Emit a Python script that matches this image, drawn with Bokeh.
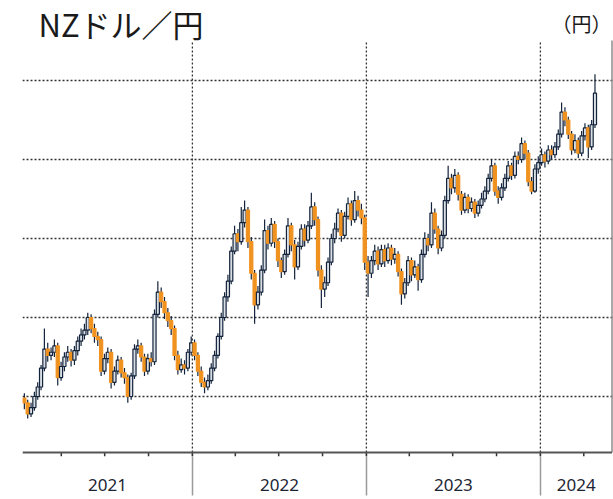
import pandas as pd
from bokeh.plotting import figure
from bokeh.models import ColumnDataSource, FixedTicker, Range1d, Grid
from bokeh.embed import file_html
from bokeh.resources import INLINE
from bokeh.core.properties import value

# ---- data (weekly NZD/JPY candles) ----
first_week = "2021-01-11"
first_open = 74.9
closes = [
    74.6, 73.9, 74.3, 75.0, 75.6, 76.8, 78.0, 77.6, 77.8, 78.2,
    76.2, 76.9, 77.5, 77.8, 77.3, 77.9, 78.5, 78.9, 79.2, 80.0,
    79.3, 78.8, 78.6, 76.6, 77.4, 77.8, 75.9, 76.6, 77.3, 76.5,
    76.2, 75.0, 76.3, 78.0, 78.2, 77.5, 76.6, 77.4, 77.2, 80.2,
    81.6, 81.0, 80.3, 79.8, 79.3, 77.6, 76.7, 77.0, 76.8, 77.8,
    78.4, 77.6, 76.6, 75.9, 75.6, 76.0, 76.8, 77.6, 78.8, 80.0,
    81.3, 82.3, 84.2, 85.3, 84.8, 86.0, 86.8, 84.8, 82.8, 80.8,
    81.6, 83.0, 85.5, 84.7, 85.9, 84.8, 83.6, 82.9, 84.0, 85.8,
    84.6, 83.2, 84.5, 85.6, 84.9, 85.8, 87.0, 86.2, 83.0, 81.8,
    82.2, 83.5, 85.0, 85.6, 86.6, 85.2, 86.4, 87.2, 86.2, 87.4,
    86.8, 86.3, 83.5, 82.8, 83.6, 84.2, 83.4, 84.3, 83.6, 84.4,
    83.7, 84.0, 82.9, 81.5, 82.2, 83.6, 82.7, 83.2, 82.4, 84.0,
    85.0, 84.6, 86.6, 85.6, 84.4, 85.2, 87.4, 88.8, 88.2, 89.0,
    87.8, 86.8, 87.6, 86.9, 87.3, 86.6, 87.1, 87.5, 88.0, 88.8,
    89.6, 88.0, 87.6, 88.2, 88.8, 89.6, 89.0, 90.2, 90.0, 91.0,
    90.4, 88.6, 88.0, 89.4, 89.8, 90.3, 89.9, 90.6, 90.3, 90.8,
    91.6, 93.0, 92.5, 91.6, 90.6, 91.2, 90.4, 91.5, 92.0, 90.8,
    92.2, 94.2,
]
highs = [
    75.2, 74.8, 74.6, 75.3, 75.9, 77.0, 79.3, 78.4, 78.1, 78.6,
    78.4, 77.2, 77.8, 78.2, 78.0, 78.2, 78.8, 79.3, 79.6, 80.3,
    80.2, 79.6, 79.1, 78.8, 77.7, 78.1, 78.0, 76.9, 77.6, 77.5,
    76.8, 76.4, 76.5, 78.3, 78.6, 78.4, 77.7, 77.7, 77.8, 80.5,
    82.3, 81.9, 81.3, 80.6, 80.1, 79.5, 77.9, 77.4, 77.3, 78.0,
    78.8, 78.6, 77.8, 76.9, 76.2, 76.4, 77.1, 77.9, 79.0, 80.3,
    81.6, 82.7, 84.5, 85.8, 85.6, 87.0, 87.4, 87.0, 85.1, 83.0,
    82.0, 83.3, 86.2, 85.8, 86.3, 86.1, 85.0, 83.8, 84.3, 86.3,
    86.0, 84.9, 84.8, 85.9, 85.9, 86.1, 87.9, 87.3, 86.4, 83.3,
    82.6, 83.8, 85.3, 86.0, 86.9, 86.8, 86.7, 87.6, 87.4, 88.0,
    87.7, 87.2, 86.5, 83.9, 83.9, 84.6, 84.5, 84.6, 84.6, 84.7,
    84.6, 84.4, 84.2, 83.1, 82.5, 83.9, 83.8, 83.6, 83.4, 84.3,
    85.4, 85.3, 87.3, 86.9, 85.8, 85.5, 87.7, 89.6, 89.1, 89.4,
    89.2, 88.0, 87.9, 87.8, 87.6, 87.5, 87.4, 87.9, 88.3, 89.1,
    90.0, 89.8, 88.3, 88.5, 89.1, 89.9, 89.8, 90.5, 90.5, 91.4,
    91.2, 90.6, 88.9, 89.7, 90.2, 90.7, 90.5, 90.9, 90.9, 91.1,
    91.9, 93.6, 93.3, 92.7, 91.8, 91.6, 91.4, 91.8, 92.3, 92.2,
    92.5, 95.4,
]
lows = [
    74.2, 73.6, 73.7, 74.1, 74.8, 75.4, 76.6, 77.2, 77.3, 77.5,
    75.7, 76.0, 76.6, 77.2, 76.9, 77.0, 77.6, 78.2, 78.6, 78.9,
    79.0, 78.4, 78.2, 76.3, 76.4, 77.1, 75.5, 75.7, 76.4, 76.2,
    75.8, 74.6, 74.8, 76.1, 77.7, 77.2, 76.3, 76.4, 76.9, 77.0,
    80.0, 80.6, 79.9, 79.4, 78.9, 77.3, 76.4, 76.5, 76.4, 76.6,
    77.6, 77.3, 76.3, 75.6, 75.2, 75.4, 75.8, 76.6, 77.4, 78.6,
    79.8, 81.0, 82.1, 84.0, 84.2, 84.6, 85.7, 84.4, 82.4, 79.6,
    80.5, 81.4, 82.8, 84.3, 84.5, 84.4, 83.2, 82.5, 82.7, 83.8,
    84.2, 82.4, 83.0, 84.3, 84.5, 84.7, 85.6, 85.8, 82.6, 80.6,
    81.3, 82.0, 83.3, 84.7, 85.4, 84.8, 85.0, 86.2, 85.8, 86.0,
    86.4, 85.9, 83.0, 81.3, 82.5, 83.3, 83.0, 83.2, 83.2, 83.4,
    83.3, 83.4, 82.6, 80.8, 81.2, 82.0, 82.3, 82.5, 81.7, 82.2,
    83.8, 84.2, 84.4, 85.3, 84.0, 84.2, 85.0, 87.2, 87.8, 87.9,
    87.4, 86.5, 86.6, 86.6, 86.7, 86.3, 86.4, 86.9, 87.3, 87.8,
    88.6, 87.7, 87.2, 87.4, 88.0, 88.6, 88.7, 88.8, 89.7, 89.8,
    90.0, 88.3, 87.8, 87.9, 89.1, 89.6, 89.5, 89.7, 90.0, 90.1,
    90.6, 91.4, 92.1, 91.3, 90.3, 90.4, 90.1, 90.2, 91.2, 90.1,
    90.6, 92.0,
]
year_labels = ["2021", "2022", "2023", "2024"]
year_starts = ["2021-01-01", "2022-01-01", "2023-01-01", "2024-01-01", "2025-01-01"]
quarter_ticks = ["2021-04-01", "2021-07-01", "2021-10-01", "2022-01-01",
                 "2022-04-01", "2022-07-01", "2022-10-01", "2023-01-01",
                 "2023-04-01", "2023-07-01", "2023-10-01", "2024-01-01",
                 "2024-04-01"]
grid_levels = [75, 80, 85, 90, 95]
title_text = "NZドル／円"
unit_text = "（円）"

# ---- geometry helpers ----
DAY = 86400000.0
PX_PER_DAY = 0.4767          # horizontal scale
PX_PER_YEN = 15.8            # vertical scale
FRAME_BOTTOM = 456           # page px; axis line sits 4 px above it

def ms(s):
    return pd.Timestamp(s).value / 1e6

x_start = ms("2021-01-09 14:00")            # left edge of the plot frame (page x 22)
def xpx(px):                                # frame-relative pixel -> date ms
    return x_start + px / PX_PER_DAY * DAY
def ypg(page_y):                            # page pixel row -> yen (95 sits on row 80)
    return 95 - (page_y - 80) / PX_PER_YEN

x_end = xpx(591)
y_top_frame = ypg(0)
y_bot_frame = ypg(FRAME_BOTTOM)
y_axis = ypg(452)           # axis line
y_plot_top = ypg(40)        # top of dotted verticals / right border
x_border = xpx(589.5)

opens = [first_open] + closes[:-1]
centers = [ms(first_week) + (7 * i + 2.5) * DAY for i in range(len(closes))]
navy = "#13233b"
orange = "#f0921f"
upfill = "#d9dee4"
is_up = [c >= o for o, c in zip(opens, closes)]
src = ColumnDataSource(dict(
    x=centers, h=highs, l=lows,
    top=[max(a, b) for a, b in zip(opens, closes)],
    bot=[min(a, b) for a, b in zip(opens, closes)],
    fill=[upfill if u else orange for u in is_up],
    edge=[navy if u else orange for u in is_up],
))

p = figure(width=613, height=499, x_axis_type="datetime", y_axis_location=None,
           x_range=Range1d(x_start, x_end), y_range=Range1d(y_bot_frame, y_top_frame),
           output_backend="svg", toolbar_location=None,
           min_border_left=22, min_border_top=0, min_border_right=0,
           min_border_bottom=499 - FRAME_BOTTOM)
p.outline_line_color = None
p.background_fill_color = "white"
p.grid.visible = False

# horizontal dotted grid
hg = Grid(dimension=1, ticker=FixedTicker(ticks=grid_levels),
          grid_line_color="#333333", grid_line_dash="2 2", grid_line_width=1.3)
p.add_layout(hg)

# vertical dotted lines at year boundaries, right border, axis line
yb = [ms(s) for s in year_starts[1:4]]
p.segment(x0=yb, y0=[y_axis] * 3, x1=yb, y1=[y_plot_top] * 3,
          line_color="#333333", line_dash="2 2", line_width=1.3)
p.segment(x0=[x_border], y0=[y_axis], x1=[x_border], y1=[y_plot_top],
          line_color="#8c8c8c", line_width=1.5)
# year separators just below the axis (continued by the axis' minor ticks)
p.segment(x0=yb, y0=[y_axis] * 3, x1=yb, y1=[y_bot_frame] * 3,
          line_color="#9a9a9a", line_width=1.5)
qt = [ms(s) for s in quarter_ticks]
p.segment(x0=qt, y0=[y_axis] * len(qt), x1=qt, y1=[y_bot_frame] * len(qt),
          line_color="#333333", line_width=1.5)
p.segment(x0=[x_start], y0=[y_axis], x1=[x_border], y1=[y_axis],
          line_color="#555555", line_width=2)

# bottom axis: year labels centred in the visible part of each year
centers_year = []
for k in range(4):
    a = max(ms(year_starts[k]), x_start)
    b = min(ms(year_starts[k + 1]), x_border)
    centers_year.append((a + b) / 2)
xa = p.xaxis[0]
xa.ticker = FixedTicker(ticks=centers_year, minor_ticks=yb)
xa.major_label_overrides = {c: t for c, t in zip(centers_year, year_labels)}
xa.major_tick_out = 0
xa.major_tick_in = 0
xa.major_tick_line_color = None
xa.minor_tick_out = 39
xa.minor_tick_in = 0
xa.minor_tick_line_color = "#9a9a9a"
xa.minor_tick_line_width = 1.5
xa.axis_line_color = None
xa.major_label_standoff = -17
xa.major_label_text_font = "Noto Sans"
xa.major_label_text_font_size = "17px"
xa.major_label_text_color = "#1c2533"

# candles
p.segment(x0="x", y0="h", x1="x", y1="l", source=src, line_color=navy, line_width=1.2)
p.vbar(x="x", width=6.5 * DAY, top="top", bottom="bot", source=src,
       fill_color="fill", line_color="edge", line_width=1.2)

# title and unit (inside the frame, above the plot area)
p.text(x=[xpx(16)], y=[ypg(23)], text=[title_text], text_align="left",
       text_baseline="alphabetic", text_font=value("Noto Sans CJK JP"),
       text_font_size="31px", text_color="#1a1a1a")
p.text(x=[xpx(589)], y=[ypg(23)], text=[unit_text], text_align="right",
       text_baseline="middle", text_font=value("Noto Sans CJK JP"),
       text_font_size="20px", text_color="#1a1a1a")

open("out.html", "w").write(file_html(p, INLINE))
